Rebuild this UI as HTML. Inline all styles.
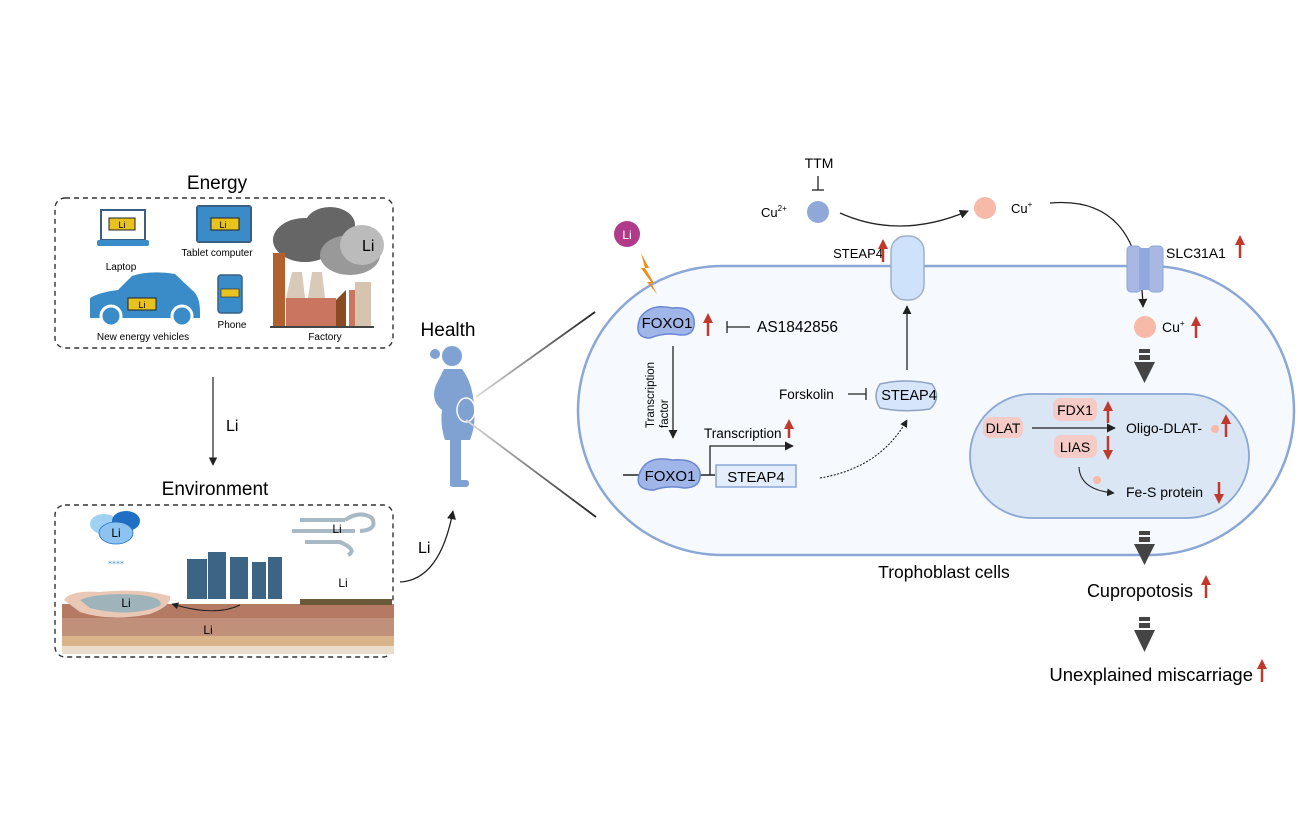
<!DOCTYPE html>
<html><head><meta charset="utf-8"><style>
html,body{margin:0;padding:0;background:#fff}
svg{display:block;font-family:"Liberation Sans",sans-serif}
</style></head><body>
<svg width="1306" height="838" viewBox="0 0 1306 838" xmlns="http://www.w3.org/2000/svg">
<defs>
<marker id="ah" viewBox="0 0 10 10" refX="9" refY="5" markerWidth="7" markerHeight="7" orient="auto"><path d="M0,0L10,5L0,10z" fill="#222"/></marker>
<linearGradient id="g1" x1="0" x2="1"><stop offset="0" stop-color="#ddd"/><stop offset="1" stop-color="#222"/></linearGradient>
</defs>

<!-- Energy -->
<text x="217" y="189" font-size="19" text-anchor="middle">Energy</text>
<rect x="55" y="198" width="338" height="150" rx="10" fill="none" stroke="#333" stroke-width="1.4" stroke-dasharray="5,4"/>
<rect x="101" y="210" width="44" height="30" fill="#fff" stroke="#3a5f85" stroke-width="2"/>
<rect x="97" y="240" width="52" height="6" rx="2" fill="#3a8cc9"/>
<rect x="109" y="218" width="26" height="12" fill="#e8c21f" stroke="#222"/><text x="122" y="228" font-size="9" text-anchor="middle">Li</text>
<text x="121" y="270" font-size="10" text-anchor="middle">Laptop</text>
<rect x="197" y="206" width="54" height="36" rx="2" fill="#3a8cc9" stroke="#3a5f85" stroke-width="2"/>
<rect x="211" y="218" width="28" height="12" fill="#e8c21f" stroke="#222"/><text x="223" y="228" font-size="9" text-anchor="middle">Li</text>
<text x="217" y="256" font-size="10" text-anchor="middle">Tablet computer</text>
<path d="M90,318 L90,298 Q100,292 118,290 L132,276 Q150,270 175,274 L192,290 Q200,296 200,312 L200,318 Z" fill="#3a8cc9"/>
<circle cx="111" cy="316" r="10" fill="#3a8cc9" stroke="#fff" stroke-width="3"/>
<circle cx="182" cy="316" r="10" fill="#3a8cc9" stroke="#fff" stroke-width="3"/>
<rect x="128" y="298" width="28" height="12" fill="#e8c21f" stroke="#222"/><text x="142" y="308" font-size="9" text-anchor="middle">Li</text>
<text x="143" y="340" font-size="10" text-anchor="middle">New energy vehicles</text>
<rect x="218" y="275" width="24" height="38" rx="3" fill="#3a8cc9" stroke="#3a5f85" stroke-width="1.5"/>
<rect x="221" y="289" width="18" height="8" fill="#e8c21f" stroke="#222" stroke-width=".6"/>
<text x="232" y="328" font-size="10" text-anchor="middle">Phone</text>
<ellipse cx="305" cy="240" rx="32" ry="22" fill="#666"/>
<ellipse cx="330" cy="225" rx="25" ry="18" fill="#666"/>
<ellipse cx="350" cy="255" rx="30" ry="20" fill="#999"/>
<ellipse cx="362" cy="245" rx="22" ry="20" fill="#bbb"/>
<text x="362" y="251" font-size="16">Li</text>
<rect x="273" y="253" width="12" height="74" fill="#b0612f"/>
<path d="M286,298 L292,272 L302,272 L305,298 Z M308,298 L312,272 L322,272 L325,298 Z" fill="#d8c9b8"/>
<rect x="286" y="298" width="50" height="29" fill="#c97560"/>
<path d="M336,327 L336,300 L346,290 L346,327 Z" fill="#8a4a22"/>
<rect x="349" y="290" width="6" height="37" fill="#c97560"/>
<rect x="355" y="282" width="16" height="45" fill="#d6c4b0"/>
<rect x="270" y="326" width="104" height="2" fill="#444"/>
<text x="325" y="340" font-size="10" text-anchor="middle">Factory</text>

<line x1="213" y1="377" x2="213" y2="465" stroke="#222" stroke-width="1.2" marker-end="url(#ah)"/>
<text x="226" y="431" font-size="16">Li</text>

<!-- Environment -->
<text x="215" y="495" font-size="19" text-anchor="middle">Environment</text>
<rect x="55" y="505" width="338" height="152" rx="10" fill="none" stroke="#333" stroke-width="1.4" stroke-dasharray="5,4"/>
<rect x="62" y="604" width="332" height="50" fill="#b47a64"/>
<rect x="62" y="618" width="332" height="18" fill="#c1907b"/>
<rect x="62" y="636" width="332" height="10" fill="#d9b48a"/>
<rect x="62" y="646" width="332" height="8" fill="#eaddcc"/>
<path d="M64,600 Q70,590 100,592 Q140,588 170,596 Q172,606 150,614 Q110,622 80,612 Z" fill="#e9c9b5"/>
<path d="M80,600 Q100,592 140,595 Q165,598 160,606 Q130,618 90,608 Z" fill="#9fb3bb"/>
<text x="126" y="607" font-size="12" text-anchor="middle">Li</text>
<text x="208" y="634" font-size="12" text-anchor="middle">Li</text>
<path d="M240,605 Q215,617 172,604" fill="none" stroke="#222" stroke-width="1" marker-end="url(#ah)"/>
<g fill="#3c6585"><rect x="187" y="559" width="20" height="40"/><rect x="208" y="552" width="18" height="47"/><rect x="230" y="557" width="18" height="42"/><rect x="252" y="562" width="14" height="37"/><rect x="268" y="557" width="14" height="42"/></g>
<path d="M300,599 L392,599 L392,605 L300,605 Z" fill="#6b5a3a"/>
<text x="343" y="587" font-size="12" text-anchor="middle">Li</text>
<ellipse cx="104" cy="524" rx="14" ry="10" fill="#9fd1f3"/>
<ellipse cx="126" cy="521" rx="14" ry="10" fill="#1f6fc4"/>
<ellipse cx="116" cy="533" rx="17" ry="11" fill="#8cc3f0" stroke="#1f6fc4" stroke-width=".8"/>
<text x="116" y="537" font-size="12" text-anchor="middle">Li</text>
<text x="116" y="564" font-size="8" fill="#3a8cc9" text-anchor="middle">⁎⁎⁎⁎</text>
<path d="M292,531 L355,531 M300,520 L345,520 M305,542 L340,542 Q358,550 348,555" stroke="#a9b9c3" stroke-width="4" fill="none"/>
<path d="M345,520 Q360,510 372,518 Q378,530 360,531" stroke="#a9b9c3" stroke-width="4" fill="none"/>
<text x="337" y="533" font-size="12" text-anchor="middle">Li</text>

<path d="M400,582 Q440,580 453,511" fill="none" stroke="#222" stroke-width="1.3" marker-end="url(#ah)"/>
<text x="418" y="553" font-size="16">Li</text>

<!-- Health -->
<text x="448" y="336" font-size="19" text-anchor="middle">Health</text>
<g fill="#7fa2d2">
<circle cx="452" cy="356" r="10"/><circle cx="435" cy="354" r="5"/>
<path d="M444,369 L462,369 Q474,385 474,410 Q476,425 470,440 L445,440 Q440,425 442,410 Q430,400 436,385 Z"/>
<rect x="450" y="440" width="11" height="46"/>
<rect x="450" y="480" width="19" height="7" rx="3"/>
</g>
<ellipse cx="466" cy="410" rx="9" ry="12" fill="none" stroke="#fff" stroke-width="1.5"/>
<line x1="476" y1="397" x2="595" y2="312" stroke="url(#g1)" stroke-width="1.8"/>
<line x1="466" y1="420" x2="596" y2="517" stroke="url(#g1)" stroke-width="1.8"/>

<!-- Cell -->
<rect x="578" y="266" width="716" height="289" rx="144.5" fill="#f6f9fe" stroke="#8aa7d6" stroke-width="2.5"/>
<rect x="970" y="394" width="279" height="124" rx="62" fill="#dbe6f5" stroke="#8aa7d6" stroke-width="1.8"/>

<circle cx="627" cy="234" r="13" fill="#b03b8a"/><text x="627" y="239" font-size="12" fill="#fff" text-anchor="middle">Li</text>
<path d="M641,253 L649,268 L645,268 L654,283 L651,283 L657,294 L647,282 L651,282 L641,268 L645,268 Z" fill="#f08c1a"/>

<text x="819" y="168" font-size="14" text-anchor="middle">TTM</text>
<line x1="818" y1="176" x2="818" y2="190" stroke="#222" stroke-width="1.3"/><line x1="812" y1="190" x2="824" y2="190" stroke="#222" stroke-width="1.3"/>
<text x="761" y="217" font-size="13">Cu<tspan font-size="8" dy="-6">2+</tspan></text>
<circle cx="818" cy="212" r="11" fill="#8fa8d8"/>
<path d="M840,213 Q900,240 968,211" fill="none" stroke="#222" stroke-width="1.3" marker-end="url(#ah)"/>
<circle cx="985" cy="208" r="11" fill="#f7b9a8"/>
<text x="1011" y="213" font-size="13">Cu<tspan font-size="8" dy="-6">+</tspan></text>
<path d="M1050,203 Q1140,195 1143,307" fill="none" stroke="#222" stroke-width="1.3" marker-end="url(#ah)"/>

<text x="883" y="258" font-size="13" text-anchor="end">STEAP4</text>
<rect x="891" y="236" width="33" height="64" rx="15" fill="#cfe2fb" stroke="#9fb0c8" stroke-width="1.5"/>
<rect x="1127" y="246" width="14" height="46" rx="4" fill="#a8b8e2" stroke="#8aa7d6"/>
<rect x="1139" y="248" width="12" height="42" fill="#8fa8e0"/>
<rect x="1149" y="246" width="14" height="46" rx="4" fill="#a8b8e2" stroke="#8aa7d6"/>
<text x="1166" y="258" font-size="14">SLC31A1</text>

<circle cx="1145" cy="327" r="11" fill="#f7b9a8"/>
<text x="1162" y="332" font-size="14">Cu<tspan font-size="8" dy="-6">+</tspan></text>

<g fill="#444">
<rect x="1139" y="349" width="11" height="4"/><rect x="1139" y="355" width="11" height="5"/><path d="M1134,362 L1155,362 L1144.5,383 Z"/>
<rect x="1139" y="531" width="11" height="4"/><rect x="1139" y="537" width="11" height="5"/><path d="M1134,544 L1155,544 L1144.5,565 Z"/>
<rect x="1139" y="617" width="11" height="4"/><rect x="1139" y="623" width="11" height="5"/><path d="M1134,630 L1155,630 L1144.5,652 Z"/>
</g>
<text x="1193" y="597" font-size="18" text-anchor="end">Cupropotosis</text>
<text x="1253" y="681" font-size="18.5" text-anchor="end">Unexplained miscarriage</text>

<!-- red arrows -->
<g stroke="#c0392b" stroke-width="2.5" fill="none">
<path d="M883,262V248 M1240,258V244 M1196,338V325 M1206,598V584 M1262,682V668 M708,336V322 M789,438V428 M1108,423V410 M1108,436V451 M1226,437V423 M1219,482V495"/>
</g>
<g fill="#c0392b">
<path d="M878,249L883,239L888,249Z M1235,245L1240,235L1245,245Z M1191,326L1196,316L1201,326Z M1201,585L1206,575L1211,585Z M1257,669L1262,659L1267,669Z M703,323L708,313L713,323Z M784,429L789,419L794,429Z M1103,411L1108,401L1113,411Z M1103,450L1108,460L1113,450Z M1221,424L1226,414L1231,424Z M1214,494L1219,504L1224,494Z"/>
</g>

<path d="M640,318 Q650,303 672,308 Q692,306 694,320 Q696,336 680,335 Q665,332 650,338 Q633,338 640,318 Z" fill="#a0b5e8" stroke="#6a87d4" stroke-width="1.5"/>
<text x="667" y="328" font-size="15" text-anchor="middle">FOXO1</text>
<line x1="727" y1="327" x2="750" y2="327" stroke="#222" stroke-width="1.3"/><line x1="727" y1="321" x2="727" y2="333" stroke="#222" stroke-width="1.3"/>
<text x="757" y="332" font-size="15.5">AS1842856</text>
<line x1="673" y1="346" x2="673" y2="438" stroke="#222" stroke-width="1.3" marker-end="url(#ah)"/>
<text transform="translate(654,428) rotate(-90)" font-size="11.5">Transcription</text>
<text transform="translate(668,428) rotate(-90)" font-size="11.5">factor</text>

<line x1="623" y1="475" x2="640" y2="475" stroke="#222" stroke-width="1.5"/>
<line x1="698" y1="475" x2="715" y2="475" stroke="#222" stroke-width="1.5"/>
<path d="M640,472 Q648,455 672,460 Q696,458 700,472 Q702,488 684,488 Q668,485 654,490 Q633,490 640,472 Z" fill="#a0b5e8" stroke="#6a87d4" stroke-width="1.5"/>
<text x="670" y="481" font-size="15" text-anchor="middle">FOXO1</text>
<rect x="716" y="465" width="80" height="22" fill="#e4eefb" stroke="#8aa7d6" stroke-width="1.5"/>
<text x="756" y="482" font-size="15" text-anchor="middle">STEAP4</text>
<path d="M710,475 L710,446 L793,446" fill="none" stroke="#222" stroke-width="1.3" marker-end="url(#ah)"/>
<text x="704" y="438" font-size="13.5">Transcription</text>
<path d="M820,478 Q880,468 907,420" fill="none" stroke="#222" stroke-width="1.1" stroke-dasharray="2,1.5" marker-end="url(#ah)"/>

<text x="779" y="399" font-size="13.5">Forskolin</text>
<line x1="848" y1="394" x2="866" y2="394" stroke="#222" stroke-width="1.3"/><line x1="866" y1="388" x2="866" y2="400" stroke="#222" stroke-width="1.3"/>
<path d="M880,384 Q905,378 932,384 Q942,398 930,409 Q905,413 880,408 Q872,396 880,384 Z" fill="#d6e5fb" stroke="#8fa1c0" stroke-width="1.5"/>
<text x="909" y="400" font-size="14.5" text-anchor="middle">STEAP4</text>
<line x1="907" y1="370" x2="907" y2="306" stroke="#222" stroke-width="1.3" marker-end="url(#ah)"/>

<rect x="983" y="417" width="40" height="21" rx="7" fill="#f4cbc6"/><text x="1003" y="433" font-size="14" text-anchor="middle">DLAT</text>
<rect x="1053" y="398" width="44" height="23" rx="7" fill="#f4cbc6"/><text x="1075" y="415" font-size="14" text-anchor="middle">FDX1</text>
<rect x="1054" y="435" width="43" height="23" rx="7" fill="#f4cbc6"/><text x="1075" y="452" font-size="14" text-anchor="middle">LIAS</text>
<line x1="1032" y1="428" x2="1115" y2="428" stroke="#222" stroke-width="1.3" marker-end="url(#ah)"/>
<text x="1126" y="433" font-size="14">Oligo-DLAT-</text>
<circle cx="1215" cy="429" r="4" fill="#f7b9a8"/>
<path d="M1079,467 Q1080,490 1114,493" fill="none" stroke="#222" stroke-width="1.1" marker-end="url(#ah)"/>
<circle cx="1097" cy="480" r="4" fill="#f7b9a8"/>
<text x="1126" y="497" font-size="14">Fe-S protein</text>

<text x="944" y="578" font-size="17.5" text-anchor="middle">Trophoblast cells</text>
</svg>
</body></html>
